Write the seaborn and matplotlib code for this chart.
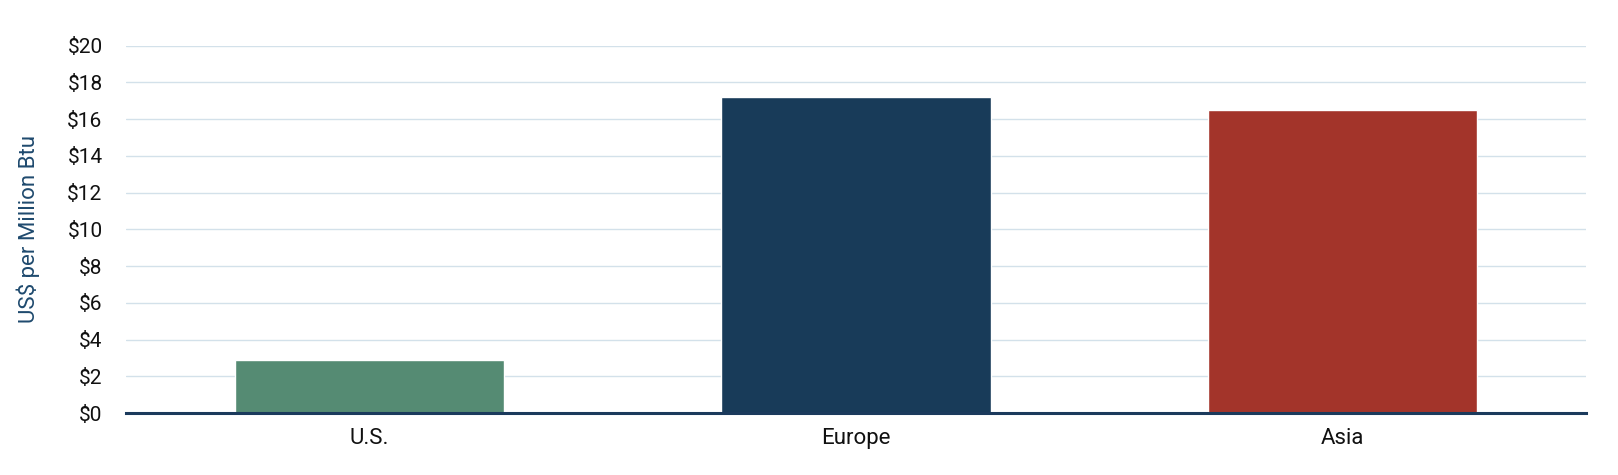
import matplotlib
matplotlib.use("Agg")
import matplotlib.pyplot as plt
import seaborn as sns
import pandas as pd

# data
regions = ["U.S.", "Europe", "Asia"]
prices = [2.9, 17.2, 16.5]
bar_colors = ["#558B73", "#183B59", "#A3342A"]
y_ticks = list(range(0, 21, 2))
y_tick_labels = ["$" + str(v) for v in y_ticks]

df = pd.DataFrame({"region": regions, "price": prices})

sns.set_style("white")
plt.rcParams["font.family"] = ["Roboto", "DejaVu Sans"]

fig = plt.figure(figsize=(16.18, 4.75), dpi=100)
ax = fig.add_axes([0.078, 0.1305, 0.902, 0.7735])

sns.barplot(data=df, x="region", y="price", hue="region", palette=bar_colors,
            legend=False, width=0.554, saturation=1, ax=ax, zorder=3)

ax.set_ylim(0, 20)
ax.set_xlim(-0.5, 2.5)
ax.set_yticks(y_ticks)
ax.set_yticklabels(y_tick_labels)
ax.grid(axis="y", color="#D3E1EA", linewidth=1.0, zorder=0)
ax.set_axisbelow(True)
for s in ["top", "right", "left"]:
    ax.spines[s].set_visible(False)
ax.spines["bottom"].set_color("#1B3A5C")
ax.spines["bottom"].set_linewidth(2.2)
ax.spines["bottom"].set_zorder(5)

ax.tick_params(axis="y", length=0, pad=17, labelsize=15, labelcolor="#111111")
ax.tick_params(axis="x", length=0, pad=11, labelsize=16, labelcolor="#111111")
ax.set_xlabel("")
ax.set_ylabel("US$ per Million Btu", fontsize=16, color="#1F4A6E", labelpad=20)

fig.savefig("out.png", dpi=100)
